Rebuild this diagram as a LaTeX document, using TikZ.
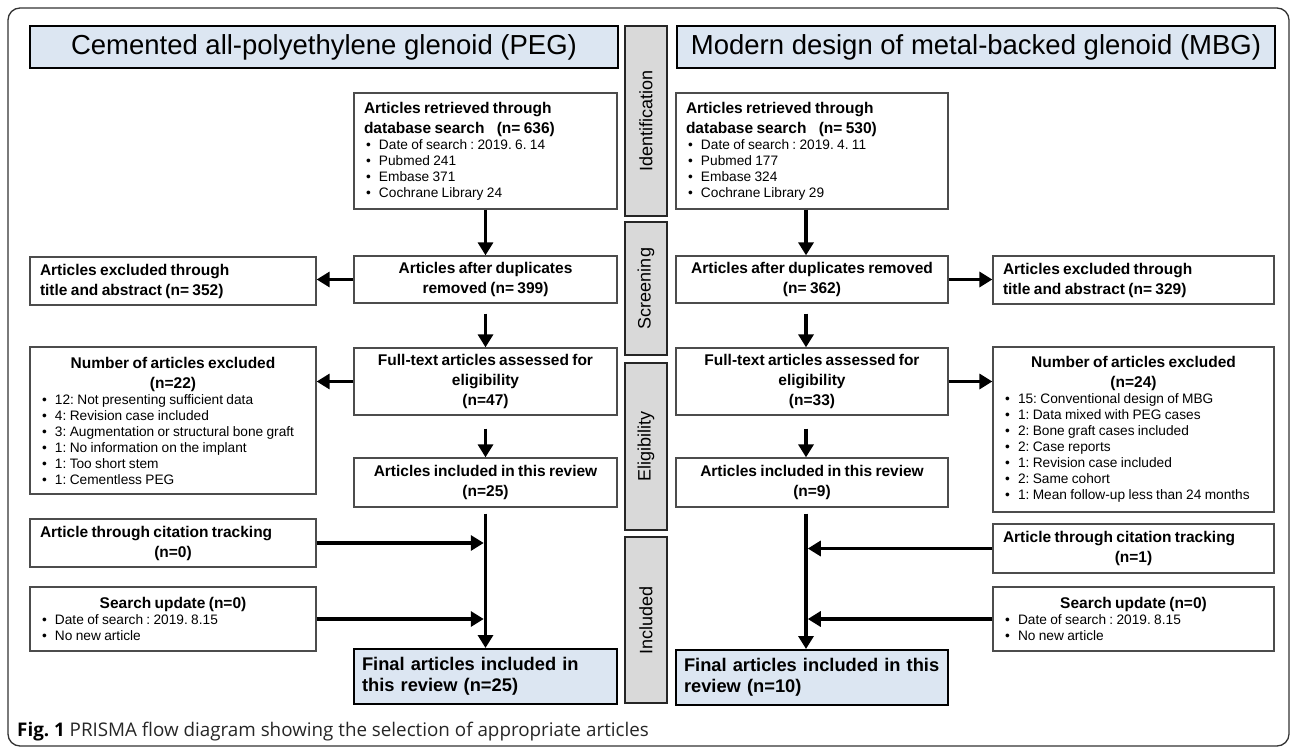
\documentclass[tikz,border=0pt]{standalone}
\usepackage{fontspec}
\setmainfont{Liberation Sans}
\newfontfamily\capfont{Open Sans}
\usetikzlibrary{arrows,arrows.meta,shapes,positioning,calc}
\frenchspacing

\newcommand{\hdtext}{\fontsize{15.5}{20}\selectfont\bfseries}
\newcommand{\bltext}{\fontsize{13.7}{16}\selectfont\mdseries}
\newcommand{\boxhead}[1]{{\hdtext #1\par}}
\newcommand{\boxheadc}[1]{{\hdtext\centering #1\par}}
\newcommand{\boxitem}[1]{{\bltext\hangindent=15pt\hspace*{2pt}\makebox[13pt][l]{\textbullet}#1\par}}

\begin{document}
\begin{tikzpicture}[x=1pt,y=-1pt,>={Triangle[length=13pt,width=15pt]},line join=miter,
  box/.style={draw=black!70,line width=1.3pt,fill=white,inner xsep=10pt,inner ysep=0pt,align=left},
  pegmain/.style={minimum width=263pt,text width=243pt},
  mbgmain/.style={minimum width=272pt,text width=252pt},
  pegside/.style={minimum width=286pt,text width=266pt},
  mbgside/.style={minimum width=281pt,text width=261pt},
  titlebox/.style={draw=black,line width=2.5pt,fill=titlefill,minimum height=42pt,font=\fontsize{27.5}{30}\selectfont},
  stagebox/.style={draw=black!85,line width=2.2pt,fill=stagefill,rotate=90,minimum height=42pt,font=\fontsize{18}{20}\selectfont},
  finalbox/.style={draw=black,line width=2pt,fill=titlefill,inner xsep=8pt,align=left,minimum height=55pt,font=\fontsize{18.3}{21}\selectfont\bfseries},
  flow/.style={->,line width=3.5pt}]
\definecolor{titlefill}{RGB}{220,230,242}
\definecolor{stagefill}{RGB}{217,217,217}
\useasboundingbox (0,0) rectangle (1292,751);
\draw[rounded corners=12pt,line width=1.3pt,draw=black!80] (8,8) rectangle (1289,746);

\node[titlebox,minimum width=588pt] (pegTitle) at (324,47) {Cemented all-polyethylene glenoid (PEG)};
\node[titlebox,minimum width=598pt] (mbgTitle) at (976,47) {Modern design of metal-backed glenoid (MBG)};

\node[stagebox,minimum width=190pt] (stIdent) at (646,121) {Identification};
\node[stagebox,minimum width=133pt] (stScreen) at (646,288.5) {Screening};
\node[stagebox,minimum width=167pt] (stElig) at (646,446.5) {Eligibility};
\node[stagebox,minimum width=166pt] (stIncl) at (646,620) {Included};

\node[box,pegmain,minimum height=116pt] (pegRet) at (485.5,151) {\boxhead{Articles retrieved through}\boxhead{database search\hspace{9pt} (n= 636)}\boxitem{Date of search : 2019. 6. 14}\boxitem{Pubmed 241}\boxitem{Embase 371}\boxitem{Cochrane Library 24}};
\node[box,pegmain,minimum height=47pt] (pegDup) at (485.5,279.5) {\boxheadc{Articles after duplicates\par removed (n= 399)}};
\node[box,pegside,minimum height=48pt] (pegExcl) at (173,281) {\boxhead{Articles excluded through\par title and abstract (n= 352)}};
\node[box,pegmain,minimum height=67pt] (pegFull) at (485.5,381.5) {\boxheadc{Full-text articles assessed for\par eligibility\par (n=47)}};
\node[box,pegside,minimum height=147pt] (pegNum) at (173,420.5) {\boxheadc{Number of articles excluded\par (n=22)}\boxitem{12: Not presenting sufficient data}\boxitem{4: Revision case included}\boxitem{3: Augmentation or structural bone graft}\boxitem{1: No information on the implant}\boxitem{1: Too short stem}\boxitem{1: Cementless PEG}};
\node[box,pegmain,minimum height=49pt] (pegInc) at (485.5,482.5) {\boxheadc{Articles included in this review\par (n=25)}};
\node[box,pegside,minimum height=48pt] (pegCit) at (173,543) {\boxhead{Article through citation tracking}\boxheadc{(n=0)}};
\node[box,pegside,minimum height=64pt] (pegUpd) at (173,619) {\boxheadc{Search update (n=0)}\boxitem{Date of search : 2019. 8.15}\boxitem{No new article}};
\node[finalbox,minimum width=263pt,text width=247pt] (pegFin) at (485.5,676.5) {Final articles included in\par this review (n=25)};

\node[box,mbgmain,minimum height=116pt] (mbgRet) at (812,151) {\boxhead{Articles retrieved through}\boxhead{database search\hspace{9pt} (n= 530)}\boxitem{Date of search : 2019. 4. 11}\boxitem{Pubmed 177}\boxitem{Embase 324}\boxitem{Cochrane Library 29}};
\node[box,mbgmain,minimum height=47pt] (mbgDup) at (812,279.5) {\boxheadc{Articles after duplicates removed\par (n= 362)}};
\node[box,mbgside,minimum height=48pt] (mbgExcl) at (1133.5,280) {\boxhead{Articles excluded through\par title and abstract (n= 329)}};
\node[box,mbgmain,minimum height=67pt] (mbgFull) at (812,381.5) {\boxheadc{Full-text articles assessed for\par eligibility\par (n=33)}};
\node[box,mbgside,minimum height=165pt] (mbgNum) at (1133.5,429.5) {\boxheadc{Number of articles excluded\par (n=24)}\boxitem{15: Conventional design of MBG}\boxitem{1: Data mixed with PEG cases}\boxitem{2: Bone graft cases included}\boxitem{2: Case reports}\boxitem{1: Revision case included}\boxitem{2: Same cohort}\boxitem{1: Mean follow-up less than 24 months}};
\node[box,mbgmain,minimum height=49pt] (mbgInc) at (812,482.5) {\boxheadc{Articles included in this review\par (n=9)}};
\node[box,mbgside,minimum height=49pt] (mbgCit) at (1133.5,548.5) {\boxhead{Article through citation tracking}\boxheadc{(n=1)}};
\node[box,mbgside,minimum height=64pt] (mbgUpd) at (1133.5,619) {\boxheadc{Search update (n=0)}\boxitem{Date of search : 2019. 8.15}\boxitem{No new article}};
\node[finalbox,minimum width=272pt,text width=256pt] (mbgFin) at (812,677.5) {Final articles included in this\par review (n=10)};

\node[anchor=west,inner sep=0pt,text=black!85,font=\capfont\fontsize{18.8}{22}\selectfont] (caption) at (17,732) {\textbf{\color{black}Fig. 1} PRISMA flow diagram showing the selection of appropriate articles};

\draw[flow] (pegRet) -- (pegDup);
\draw[flow] (pegDup.west) -- (pegDup.west -| pegExcl.east);
\draw[flow,shorten <=10pt] (pegDup) -- (pegFull);
\draw[flow] (pegFull.west) -- (pegFull.west -| pegNum.east);
\draw[flow,shorten <=13pt] (pegFull) -- (pegInc);
\draw[flow,shorten <=6pt] (pegInc) -- (pegFin);
\draw[flow,shorten >=1.75pt] (pegCit.east) -- (pegCit.east -| pegInc.south);
\draw[flow,shorten >=1.75pt] (pegUpd.east) -- (pegUpd.east -| pegInc.south);

\coordinate (mbgAxis) at ([xshift=-6pt]mbgRet.south);
\draw[flow] (mbgRet.south -| mbgAxis) -- (mbgDup.north -| mbgAxis);
\draw[flow] (mbgDup.east) -- (mbgDup.east -| mbgExcl.west);
\draw[flow,shorten <=10pt] (mbgDup.south -| mbgAxis) -- (mbgFull.north -| mbgAxis);
\draw[flow] (mbgFull.east) -- (mbgFull.east -| mbgNum.west);
\draw[flow,shorten <=13pt] (mbgFull.south -| mbgAxis) -- (mbgInc.north -| mbgAxis);
\draw[flow,shorten <=6pt] (mbgInc.south -| mbgAxis) -- (mbgFin.north -| mbgAxis);
\draw[flow,shorten >=1.75pt] (mbgCit.west) -- (mbgCit.west -| mbgAxis);
\draw[flow,shorten >=1.75pt] (mbgUpd.west) -- (mbgUpd.west -| mbgAxis);
\end{tikzpicture}
\end{document}
